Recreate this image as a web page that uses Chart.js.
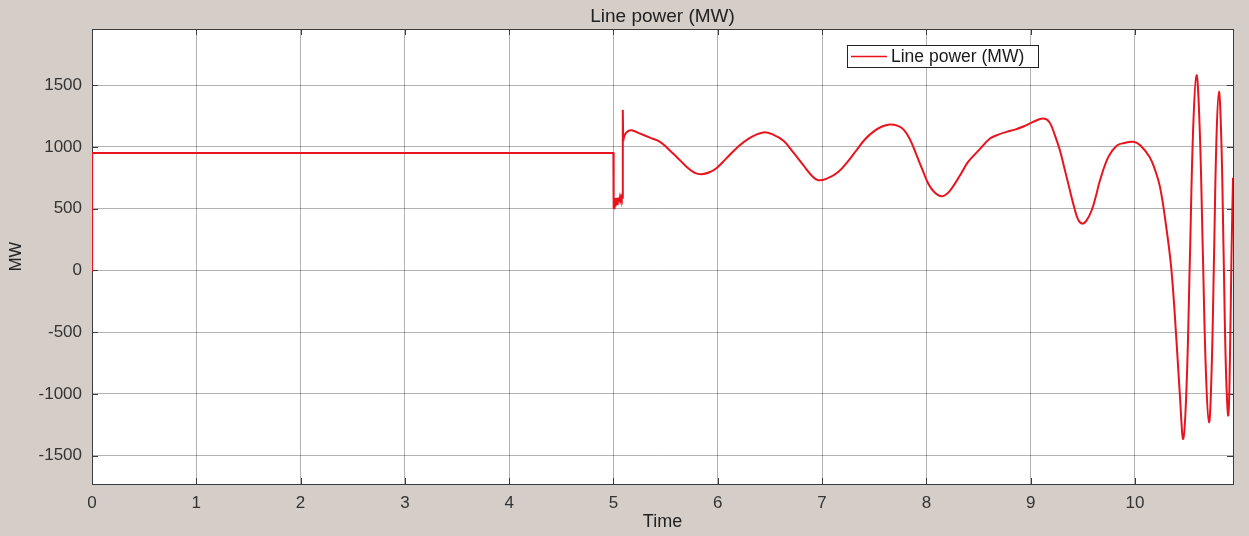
<!DOCTYPE html>
<html>
<head>
<meta charset="utf-8">
<title>Line power (MW)</title>
<script src="https://cdn.jsdelivr.net/npm/chart.js@4.4.1/dist/chart.umd.min.js"></script>
<style>
  html, body { margin: 0; padding: 0; background: #d5cec8; }
  #wrap { width: 1249px; height: 536px; position: relative; }
</style>
</head>
<body>
<div id="wrap"><canvas id="powerChart"></canvas></div>
<script>
// time (s) and line power (MW)
const times = [
  0, 0.001, 4.999,
  5.000, 5.003, 5.006, 5.009, 5.012, 5.015, 5.018, 5.021, 5.024, 5.027,
  5.030, 5.033, 5.036, 5.039, 5.042, 5.045, 5.048, 5.051, 5.054, 5.057,
  5.060, 5.063, 5.066, 5.069, 5.072, 5.075, 5.078, 5.081, 5.084, 5.087, 5.090,
  5.091, 5.093, 5.11, 5.14, 5.175, 5.25, 5.35, 5.446, 5.53, 5.606,
  5.70, 5.78, 5.846, 5.92, 5.99, 6.08, 6.18, 6.30, 6.436, 6.53,
  6.63, 6.72, 6.82, 6.90, 6.964, 7.05, 7.155, 7.25, 7.33, 7.41,
  7.49, 7.57, 7.65, 7.72, 7.78, 7.84, 7.90, 7.96, 8.02,
  8.08, 8.146, 8.21, 8.274, 8.34, 8.40, 8.51, 8.61, 8.69, 8.77,
  8.85, 8.93, 9.025, 9.12, 9.18, 9.23, 9.28, 9.32, 9.36,
  9.425, 9.46, 9.5, 9.54, 9.585, 9.625, 9.665, 9.745, 9.825, 9.90,
  9.985, 10.05, 10.14, 10.19, 10.24, 10.30, 10.35, 10.40, 10.43, 10.463,
  10.495, 10.527, 10.558, 10.59, 10.62, 10.65, 10.68, 10.71, 10.734, 10.758,
  10.781, 10.805, 10.828, 10.85, 10.872, 10.895, 10.91, 10.925, 10.94
];
const power = [
  0, 950, 950,
  500, 585, 503, 586, 512, 586, 518, 587, 527, 587,
  530, 588, 538, 589, 548, 589, 551, 590, 560, 591,
  563, 592, 572, 592, 578, 594, 581, 595, 588, 597, 600,
  1300, 1050, 1100, 1128, 1135, 1110, 1075, 1041, 980, 919,
  840, 790, 779, 795, 830, 905, 990, 1070, 1117, 1100,
  1050, 960, 852, 768, 730, 745, 797, 885, 973, 1060,
  1122, 1163, 1181, 1172, 1142, 1065, 946, 820, 700,
  630, 600, 630, 703, 795, 878, 980, 1068, 1100, 1122,
  1140, 1165, 1203, 1230, 1200, 1100, 973, 840, 703,
  487, 405, 379, 410, 487, 600, 730, 919, 1010, 1032,
  1041, 1014, 919, 820, 676, 351, 0, -595, -1000, -1365,
  -931, 108, 1147, 1581, 1168, 175, -818, -1230, -838, 108,
  1054, 1446, 1062, 135, -792, -1176, -750, 100, 750
];
const xTicks = [0, 1, 2, 3, 4, 5, 6, 7, 8, 9, 10];
const yTicks = [-1500, -1000, -500, 0, 500, 1000, 1500];
const chartTitle = "Line power (MW)";
const seriesName = "Line power (MW)";

// the switching part (steps, chatter) is drawn straight, the rest smoothed
const split = times.indexOf(5.093);
const points = times.map((t, i) => ({ x: t, y: power[i] }));
const stepPart = points.slice(0, split + 1);
const smoothPart = points.slice(split);

const red = "#e8131d";
const textColor = "#333333";
const fontFamily = "'Liberation Sans', Arial, Helvetica, sans-serif";

/* white plot box, title over the axes, frame, inner ticks and legend (MATLAB look) */
const frame = {
  id: "frame",
  beforeDraw(chart) {
    const a = chart.chartArea, ctx = chart.ctx;
    ctx.save();
    ctx.fillStyle = "#ffffff";
    ctx.fillRect(a.left, a.top, a.right - a.left, a.bottom - a.top);
    ctx.fillStyle = "#222222";
    ctx.font = "19px " + fontFamily;
    ctx.textAlign = "center";
    ctx.textBaseline = "middle";
    ctx.fillText(chartTitle, (a.left + a.right) / 2, 17);
    ctx.restore();
  },
  beforeDatasetsDraw(chart) {
    const a = chart.chartArea, ctx = chart.ctx;
    const xs = chart.scales.x, ys = chart.scales.y;
    ctx.save();
    ctx.strokeStyle = "#3c3c3c";
    ctx.lineWidth = 1;
    ctx.strokeRect(Math.round(a.left) + 0.5, Math.round(a.top) + 0.5,
      Math.round(a.right - a.left), Math.round(a.bottom - a.top));
    ctx.beginPath();
    xTicks.forEach(v => {
      const px = Math.round(xs.getPixelForValue(v)) + 0.5;
      ctx.moveTo(px, a.bottom); ctx.lineTo(px, a.bottom - 6);
      ctx.moveTo(px, a.top); ctx.lineTo(px, a.top + 6);
    });
    yTicks.forEach(v => {
      const py = Math.round(ys.getPixelForValue(v)) + 0.5;
      ctx.moveTo(a.left, py); ctx.lineTo(a.left + 6, py);
      ctx.moveTo(a.right, py); ctx.lineTo(a.right - 6, py);
    });
    ctx.stroke();
    ctx.restore();
  },
  afterDraw(chart) {
    const a = chart.chartArea, ctx = chart.ctx;
    const bx = a.left + 755, by = a.top + 16, bw = 191, bh = 22;
    ctx.save();
    ctx.fillStyle = "#ffffff";
    ctx.fillRect(bx, by, bw, bh);
    ctx.strokeStyle = "#222222";
    ctx.lineWidth = 1;
    ctx.strokeRect(bx + 0.5, by + 0.5, bw, bh);
    ctx.strokeStyle = red;
    ctx.lineWidth = 1.5;
    ctx.beginPath();
    ctx.moveTo(bx + 4, by + 11.5); ctx.lineTo(bx + 40, by + 11.5);
    ctx.stroke();
    ctx.fillStyle = "#1a1a1a";
    ctx.font = "17.5px " + fontFamily;
    ctx.textBaseline = "middle";
    ctx.fillText(chart.data.datasets[0].label, bx + 44, by + 12);
    ctx.restore();
  }
};

const chart = new Chart(document.getElementById("powerChart"), {
  type: "line",
  data: {
    datasets: [{
      label: seriesName,
      data: stepPart,
      borderColor: red,
      borderWidth: 2,
      pointRadius: 0,
      fill: false,
      tension: 0
    }, {
      label: seriesName,
      data: smoothPart,
      borderColor: red,
      borderWidth: 2,
      pointRadius: 0,
      fill: false,
      tension: 0.4
    }]
  },
  options: {
    responsive: true,
    maintainAspectRatio: false,
    animation: false,
    layout: { padding: { left: 0, right: 16, top: 29, bottom: 0 } },
    plugins: {
      legend: { display: false },
      tooltip: { enabled: false },
      title: { display: false }
    },
    scales: {
      x: {
        type: "linear",
        min: 0,
        max: 10.94,
        afterFit: s => { s.height = 52; },
        afterBuildTicks: s => { s.ticks = xTicks.map(v => ({ value: v })); },
        ticks: {
          color: textColor,
          padding: 9,
          maxRotation: 0,
          font: { family: fontFamily, size: 17 },
          callback: v => String(v)
        },
        grid: { color: "rgba(0,0,0,0.3)", drawTicks: false },
        border: { display: false },
        title: {
          display: true,
          text: "Time",
          color: "#222222",
          font: { family: fontFamily, size: 18 },
          padding: { top: 0, bottom: 3 }
        }
      },
      y: {
        min: -1730,
        max: 1955,
        afterFit: s => { s.width = 92; },
        afterBuildTicks: s => { s.ticks = yTicks.map(v => ({ value: v })); },
        ticks: {
          color: textColor,
          padding: 10,
          font: { family: fontFamily, size: 17 },
          callback: v => String(v)
        },
        grid: { color: "rgba(0,0,0,0.3)", drawTicks: false },
        border: { display: false },
        title: {
          display: true,
          text: "MW",
          color: "#222222",
          font: { family: fontFamily, size: 16.5 },
          padding: { top: 7, bottom: 0 }
        }
      }
    }
  },
  plugins: [frame]
});
</script>
</body>
</html>
